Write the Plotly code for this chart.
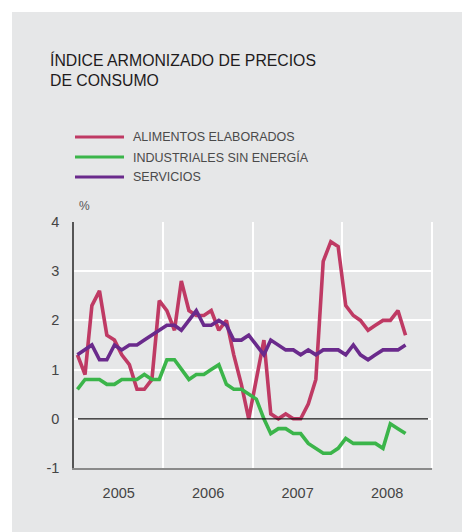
import pandas as pd
import plotly.graph_objects as go

# Monthly year-on-year rates (%), January 2005 - September 2008
months = (pd.date_range("2005-01-01", periods=45, freq="MS") + pd.Timedelta(days=14)).strftime("%Y-%m-%d").tolist()

alimentos = [1.3, 0.9, 2.3, 2.6, 1.7, 1.6, 1.3, 1.1, 0.6, 0.6, 0.8, 2.4,
             2.2, 1.8, 2.8, 2.2, 2.1, 2.1, 2.2, 1.8, 2.0, 1.3, 0.7, 0.0,
             0.8, 1.6, 0.1, 0.0, 0.1, 0.0, 0.0, 0.3, 0.8, 3.2, 3.6, 3.5,
             2.3, 2.1, 2.0, 1.8, 1.9, 2.0, 2.0, 2.2, 1.7]
industriales = [0.6, 0.8, 0.8, 0.8, 0.7, 0.7, 0.8, 0.8, 0.8, 0.9, 0.8, 0.8,
                1.2, 1.2, 1.0, 0.8, 0.9, 0.9, 1.0, 1.1, 0.7, 0.6, 0.6, 0.5,
                0.4, 0.0, -0.3, -0.2, -0.2, -0.3, -0.3, -0.5, -0.6, -0.7, -0.7, -0.6,
                -0.4, -0.5, -0.5, -0.5, -0.5, -0.6, -0.1, -0.2, -0.3]
servicios = [1.3, 1.4, 1.5, 1.2, 1.2, 1.5, 1.4, 1.5, 1.5, 1.6, 1.7, 1.8,
             1.9, 1.9, 1.8, 2.0, 2.2, 1.9, 1.9, 2.0, 1.9, 1.6, 1.6, 1.7,
             1.5, 1.3, 1.6, 1.5, 1.4, 1.4, 1.3, 1.4, 1.3, 1.4, 1.4, 1.4,
             1.3, 1.5, 1.3, 1.2, 1.3, 1.4, 1.4, 1.4, 1.5]

series_names = ["ALIMENTOS ELABORADOS", "INDUSTRIALES SIN ENERGÍA", "SERVICIOS"]
series_values = [alimentos, industriales, servicios]
series_colors = ["#bf3a64", "#3bb54a", "#6a2a8c"]

y_ticks = [-1, 0, 1, 2, 3, 4]

FONT = "Liberation Sans, Arial, sans-serif"
PANEL = "#e6e7e8"

fig = go.Figure()
for name, vals, col in zip(series_names, series_values, series_colors):
    fig.add_trace(go.Scatter(x=months, y=vals, name=name, mode="lines",
                             line=dict(color=col, width=3.6), showlegend=False))

# plot area geometry in pixels (for placing paper-referenced decorations)
L, R, T, B = 74, 432, 222, 468
W, H = R - L, B - T
def px(x):
    return (x - L) / W
def py(y):
    return (B - y) / H

shapes = [
    # grey panel behind everything
    dict(type="rect", xref="paper", yref="paper", x0=px(12), x1=px(470),
         y0=py(12), y1=py(540), fillcolor=PANEL, line=dict(width=0), layer="below"),
    # zero line
    dict(type="line", xref="paper", yref="y", x0=px(78), x1=px(428), y0=0, y1=0,
         line=dict(color="#111111", width=1.2)),
    # right-hand border of the grid
    dict(type="line", xref="paper", yref="paper", x0=1, x1=1, y0=0, y1=1,
         line=dict(color="white", width=2), layer="below"),
]

annotations = [
    dict(text="ÍNDICE ARMONIZADO DE PRECIOS", xref="paper", yref="paper",
         x=px(48), y=py(60), xanchor="left", yanchor="middle", showarrow=False,
         font=dict(family=FONT, size=15.8, color="#1e1b1c")),
    dict(text="DE CONSUMO", xref="paper", yref="paper",
         x=px(48), y=py(81), xanchor="left", yanchor="middle", showarrow=False,
         font=dict(family=FONT, size=15.8, color="#1e1b1c")),
    dict(text="%", xref="paper", yref="paper", x=px(77), y=py(206),
         xanchor="left", yanchor="middle", showarrow=False,
         font=dict(family=FONT, size=12, color="#555555")),
]

# legend: coloured strokes with labels
for k, (name, col) in enumerate(zip(series_names, series_colors)):
    yk = 137 + 20 * k
    shapes.append(dict(type="line", xref="paper", yref="paper", x0=px(75), x1=px(124),
                       y0=py(yk), y1=py(yk), line=dict(color=col, width=3)))
    annotations.append(dict(text=name, xref="paper", yref="paper", x=px(131), y=py(yk),
                            xanchor="left", yanchor="middle", showarrow=False,
                            font=dict(family=FONT, size=12.5, color="#4a4a4a")))

fig.update_layout(
    width=462, height=532,
    margin=dict(l=L, r=462 - R, t=T, b=532 - B),
    paper_bgcolor="white", plot_bgcolor=PANEL,
    shapes=shapes, annotations=annotations,
    xaxis=dict(type="date", range=["2005-01-01", "2009-01-01"], dtick="M12",
               tick0="2005-01-01", tickformat="%Y", ticklabelmode="period",
               showgrid=True, gridcolor="white", gridwidth=2,
               showline=True, linecolor="#8a8a8a", linewidth=2,
               ticks="outside", ticklen=11, tickcolor="rgba(0,0,0,0)",
               tickfont=dict(family=FONT, size=14.5, color="#444444"),
               zeroline=False, fixedrange=True),
    yaxis=dict(range=[-1, 4], tickvals=y_ticks, ticktext=[str(v) for v in y_ticks],
               showgrid=True, gridcolor="white", gridwidth=2,
               showline=True, linecolor="#555555", linewidth=1.5,
               ticks="outside", ticklen=10, tickcolor="rgba(0,0,0,0)",
               tickfont=dict(family=FONT, size=14.5, color="#444444"),
               zeroline=False, fixedrange=True),
)

fig.write_html("out.html")
